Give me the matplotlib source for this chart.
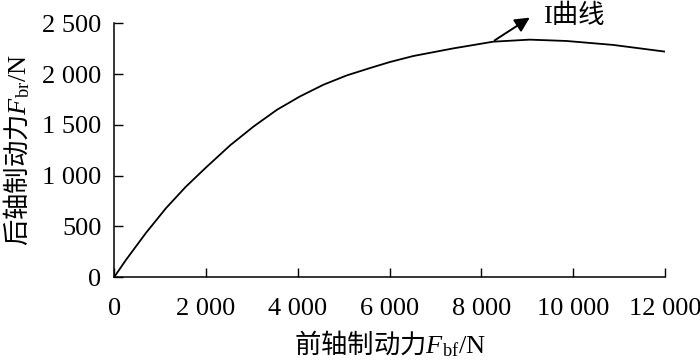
import numpy as np
import matplotlib.pyplot as plt

plt.rcParams['font.family'] = ['Liberation Serif', 'Noto Sans CJK SC']
plt.rcParams['mathtext.fontset'] = 'custom'
plt.rcParams['mathtext.rm'] = 'Liberation Serif'
plt.rcParams['mathtext.it'] = 'Liberation Serif:italic'

# front axle braking force (N) vs rear axle braking force (N)
Fbf = [0, 260, 690, 1130, 1560, 2000, 2530, 3040, 3550, 4050, 4560, 5070,
       5580, 6010, 6520, 7390, 8260, 9050, 9850, 10870, 12000]
Fbr = [0, 171, 434, 680, 890, 1080, 1300, 1485, 1650, 1781, 1896, 1988,
       2061, 2120, 2179, 2254, 2320, 2340, 2327, 2288, 2222]

xticks = [0, 2000, 4000, 6000, 8000, 10000, 12000]
xlabels = ["0", "2 000", "4 000", "6 000", "8 000", "10 000", "12 000"]
yticks = [0, 500, 1000, 1500, 2000, 2500]
ylabels = ["0", "500", "1 000", "1 500", "2 000", "2 500"]

fig = plt.figure(figsize=(7, 3.6), dpi=100)
ax = fig.add_axes([0.163, 0.23, 0.787, 0.705])

ax.plot(Fbf, Fbr, color="black", lw=1.3)

ax.set_xlim(0, 12000)
ax.set_ylim(0, 2500)
ax.set_xticks(xticks)
ax.set_xticklabels(xlabels)
ax.set_yticks(yticks)
ax.set_yticklabels(ylabels)
ax.tick_params(direction="in", length=6.5, width=1, labelsize=19)
ax.tick_params(axis="x", pad=15)
ax.tick_params(axis="y", pad=9)

for s in ["top", "right"]:
    ax.spines[s].set_visible(False)
for s in ["left", "bottom"]:
    ax.spines[s].set_linewidth(1.1)

# chinese part goes through the default font, math part through Liberation Serif
ax.set_xlabel(r"前轴制动力$F_{\mathrm{bf}}/\mathrm{N}$", fontsize=19,
              family="Noto Sans CJK SC", labelpad=6)
ax.set_ylabel(r"后轴制动力$F_{\mathrm{br}}/\mathrm{N}$", fontsize=19,
              family="Noto Sans CJK SC", labelpad=7)

ax.annotate("", xy=(9054, 2557), xytext=(8290, 2333), annotation_clip=False,
            arrowprops=dict(arrowstyle="-|>", color="black", lw=1.4,
                            mutation_scale=22, shrinkA=0, shrinkB=0))
ax.text(9337, 2575, "I曲线", fontsize=19, va="center", ha="left", clip_on=False)

fig.savefig("out.png")
